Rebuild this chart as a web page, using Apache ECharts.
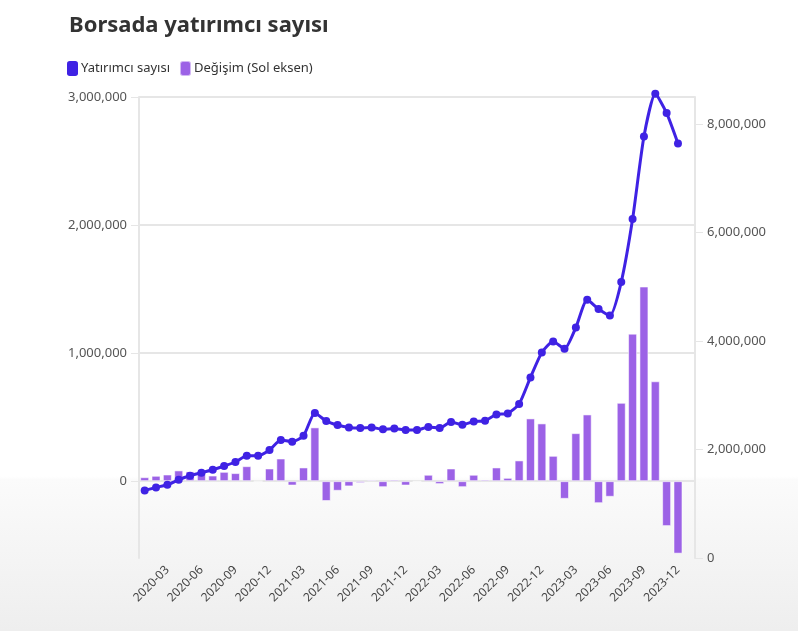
<!DOCTYPE html>
<html>
<head>
<meta charset="utf-8">
<script src="https://cdn.jsdelivr.net/npm/echarts@6/dist/echarts.min.js"></script>
<style>
html,body{margin:0;padding:0;background:#fff;}
#chart{width:798px;height:631px;}
</style>
</head>
<body>
<div id="chart"></div>
<script>
const categories = [
  '2020-01','2020-02','2020-03','2020-04','2020-05','2020-06','2020-07','2020-08','2020-09','2020-10','2020-11','2020-12',
  '2021-01','2021-02','2021-03','2021-04','2021-05','2021-06','2021-07','2021-08','2021-09','2021-10','2021-11','2021-12',
  '2022-01','2022-02','2022-03','2022-04','2022-05','2022-06','2022-07','2022-08','2022-09','2022-10','2022-11','2022-12',
  '2023-01','2023-02','2023-03','2023-04','2023-05','2023-06','2023-07','2023-08','2023-09','2023-10','2023-11','2023-12'
];
const investors = [
  1246000,1301000,1351000,1443000,1517000,1572000,1628000,1696000,1770000,1886000,1886000,1991000,
  2175000,2144000,2254000,2673000,2525000,2452000,2407000,2396000,2407000,2372000,2386000,2359000,
  2359000,2415000,2396000,2507000,2457000,2518000,2531000,2647000,2666000,2839000,3329000,3790000,
  3993000,3856000,4250000,4761000,4590000,4470000,5088000,6249000,7770000,8559000,8203000,7643000
];
const changes = [
  31000,42000,52000,84000,76000,65000,44000,73000,63000,117000,0,99000,
  177000,-34000,107000,420000,-155000,-75000,-41000,-15000,11000,-47000,13000,-34000,
  -3000,50000,-23000,99000,-47000,50000,13000,107000,26000,162000,490000,451000,
  198000,-138000,375000,521000,-172000,-122000,612000,1152000,1520000,780000,-351000,-566000
];
const leftTicks = [0, 1000000, 2000000, 3000000];
const rightTicks = [0, 2000000, 4000000, 6000000, 8000000];
const seriesNames = ['Yatırımcı sayısı', 'Değişim (Sol eksen)'];
const titleText = 'Borsada yatırımcı sayısı';

const FONT = '"Noto Sans", sans-serif';
const fmt = v => Number(v).toLocaleString('en-US');
const nCat = categories.length;

const chart = echarts.init(document.getElementById('chart'), null, {renderer: 'canvas'});
chart.setOption({
  animation: false,
  backgroundColor: {
    type: 'linear', x: 0, y: 0, x2: 0, y2: 1,
    colorStops: [
      {offset: 0, color: '#ffffff'},
      {offset: 0.755, color: '#ffffff'},
      {offset: 0.76, color: '#fbfbfb'},
      {offset: 1, color: '#eeeeee'}
    ]
  },
  title: {
    text: titleText,
    left: 64, top: 10,
    textStyle: {fontFamily: FONT, fontSize: 22, fontWeight: 'bold', color: '#333333'}
  },
  legend: {
    left: 62, top: 55,
    icon: 'roundRect',
    itemWidth: 11, itemHeight: 15, itemGap: 9,
    textStyle: {fontFamily: FONT, fontSize: 13, color: '#333333', padding: [0, 0, 0, -2]},
    data: seriesNames
  },
  grid: {left: 139, right: 103, top: 97, bottom: 73, containLabel: false},
  xAxis: {
    type: 'category',
    data: categories.concat(['']),
    boundaryGap: true,
    axisLine: {lineStyle: {color: '#e6e6e6', width: 2}},
    axisTick: {
      alignWithLabel: true, length: 7,
      interval: (i) => i < nCat,
      lineStyle: {color: '#e6e6e6', width: 2}
    },
    axisLabel: {
      interval: (i) => i < nCat && i % 3 === 2,
      rotate: 45, margin: 10,
      fontFamily: FONT, fontSize: 12, color: '#444444'
    },
    splitLine: {show: false}
  },
  yAxis: [
    {
      type: 'value', min: -600000, max: 3000000,
      axisLine: {show: true, lineStyle: {color: '#e6e6e6', width: 2}},
      axisTick: {show: true, length: 8, customValues: leftTicks, lineStyle: {color: '#e6e6e6', width: 1}},
      axisLabel: {customValues: leftTicks, formatter: fmt, fontFamily: FONT, fontSize: 13, color: '#555555', margin: 12},
      splitLine: {show: true, lineStyle: {color: '#e6e6e6', width: 2}}
    },
    {
      type: 'value', min: 0, max: 8500000, position: 'right',
      axisLine: {show: true, lineStyle: {color: '#e6e6e6', width: 2}},
      axisTick: {show: true, length: 8, customValues: rightTicks, lineStyle: {color: '#e6e6e6', width: 1}},
      axisLabel: {customValues: rightTicks, formatter: fmt, fontFamily: FONT, fontSize: 13, color: '#555555', margin: 12},
      splitLine: {show: false}
    }
  ],
  series: [
    {
      name: seriesNames[0],
      type: 'line',
      yAxisIndex: 1,
      data: investors,
      smooth: 0.2,
      clip: false,
      showAllSymbol: true,
      symbol: 'circle', symbolSize: 8,
      z: 3,
      itemStyle: {color: '#3f22e4'},
      lineStyle: {color: '#3f22e4', width: 3}
    },
    {
      name: seriesNames[1],
      type: 'bar',
      yAxisIndex: 0,
      data: changes,
      barWidth: 9,
      z: 2,
      itemStyle: {color: '#9c62e6', borderColor: 'rgba(255,255,255,0.55)', borderWidth: 1}
    }
  ]
});
</script>
</body>
</html>
